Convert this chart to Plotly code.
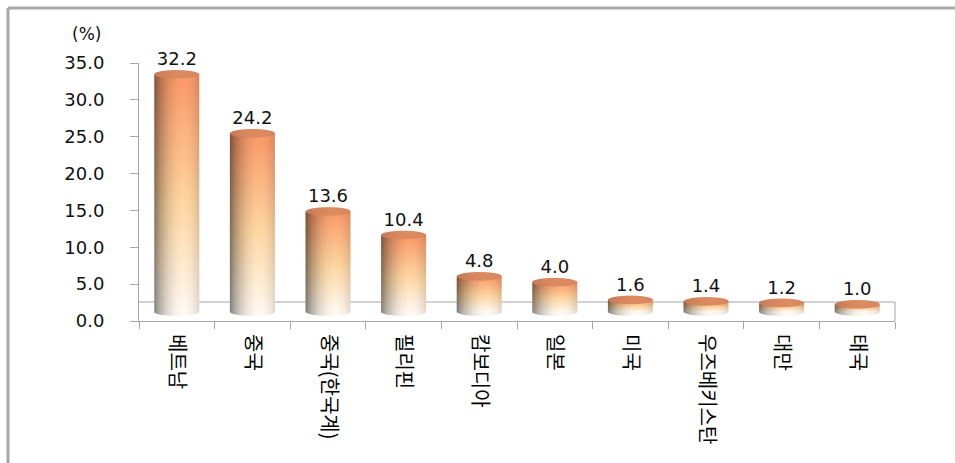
import numpy as np
import plotly.graph_objects as go

# ---- data -------------------------------------------------------------
countries = ["베트남", "중국", "중국(한국계)", "필리핀", "캄보디아",
             "일본", "미국", "우즈베키스탄", "대만", "태국"]
shares = [32.2, 24.2, 13.6, 10.4, 4.8, 4.0, 1.6, 1.4, 1.2, 1.0]
y_ticks = [0, 5, 10, 15, 20, 25, 30, 35]

# ---- page geometry (px) -----------------------------------------------
W, H = 955, 463
ML, MR, MT, MB = 139, 60, 63, 142
PW, PH = W - ML - MR, H - MT - MB
Y_MAX = 35
px_per_y = PH / Y_MAX
px_per_x = PW / len(countries)
FLOOR_PX = 19                      # depth of the 3-D floor
lift = (FLOOR_PX / 2) / px_per_y   # cylinders stand in the middle of the floor
BAR_PX = 45                        # cylinder diameter
CAP_PX = 4.3                       # half-height of the elliptical ends
cap_e = CAP_PX / px_per_y

BODY_STOPS = [(0.0, (255, 248, 240)), (0.45, (255, 214, 162)), (1.0, (250, 152, 102))]
CAP_RGB = np.array([220, 138, 96], float)
GRID = "#A6A6A6"
TEXT = "#111111"


def body_color(t):
    ts = [s[0] for s in BODY_STOPS]
    out = np.zeros(t.shape + (3,))
    for c in range(3):
        out[..., c] = np.interp(t, ts, [s[1][c] for s in BODY_STOPS])
    return out


def cylinder(i, v):
    """RGBA image of one shaded cylinder standing at category index i with height v."""
    half = BAR_PX / 2 / px_per_x
    dx, dy = 1 / px_per_x, 1 / px_per_y
    ybot, ytop = -cap_e, v + cap_e
    m = int(np.ceil((ytop - ybot) * px_per_y)) + 2
    xs = i - half + dx * (np.arange(BAR_PX) + 0.5)
    ys = ybot + dy * (np.arange(m) + 0.5)
    u = (xs - i) / half
    U, Y = np.meshgrid(u, ys)
    root = np.sqrt(np.clip(1 - U ** 2, 0, 1))

    # side lighting: dark left rim, highlight right of centre
    a = np.clip((U - 0.3) / 1.3, -1, 1) * np.pi / 2
    shade = 0.48 + 0.52 * np.cos(a) ** 0.7

    body = body_color(np.clip(Y / v, 0, 1)) * shade[..., None]
    cap_shade = 0.86 + 0.14 * np.cos(a) ** 0.7
    cap = CAP_RGB[None, None, :] * cap_shade[..., None]

    w_cap = np.clip((Y - (v - cap_e * root)) * px_per_y + 0.5, 0, 1)[..., None]
    rgb = body * (1 - w_cap) + cap * w_cap

    a_bot = np.clip((Y + cap_e * root) * px_per_y + 0.5, 0, 1)
    a_top = np.clip((v + cap_e * root - Y) * px_per_y + 0.5, 0, 1)
    alpha = np.minimum(a_bot, a_top)

    z = np.concatenate([np.clip(rgb, 0, 255), alpha[..., None]], axis=2)
    return go.Image(z=z, colormodel="rgba", x0=xs[0], dx=dx, y0=ys[0], dy=dy,
                    xaxis="x2", yaxis="y2", hoverinfo="skip")


fig = go.Figure()

# empty trace so the front (labelled) axes are drawn
fig.add_trace(go.Scatter(x=countries, y=shares, mode="none", xaxis="x", yaxis="y",
                         hoverinfo="skip", showlegend=False))

for i, v in enumerate(shares):
    fig.add_trace(cylinder(i, v))

# value labels sitting on top of each cylinder
fig.add_trace(go.Scatter(
    x=countries, y=[v + cap_e for v in shares], xaxis="x", yaxis="y2",
    mode="text", text=[f"{v:.1f}" for v in shares], textposition="top center",
    textfont=dict(family="DejaVu Sans", size=18, color=TEXT),
    cliponaxis=False, hoverinfo="skip", showlegend=False))


def px_x(p):
    return (p - ML) / PW


def px_y(p):
    return (H - MB - p) / PH


shapes = [
    # floor: back edge and right side
    dict(type="line", xref="paper", yref="paper", x0=0, x1=1,
         y0=FLOOR_PX / PH, y1=FLOOR_PX / PH, line=dict(color=GRID, width=1), layer="below"),
    dict(type="line", xref="paper", yref="paper", x0=1, x1=1,
         y0=0, y1=FLOOR_PX / PH, line=dict(color=GRID, width=1), layer="below"),
    # chart frame (top and left edges)
    dict(type="line", xref="paper", yref="paper", x0=px_x(8), x1=px_x(W + 5),
         y0=px_y(8), y1=px_y(8), line=dict(color="#A8A8A8", width=3)),
    dict(type="line", xref="paper", yref="paper", x0=px_x(8), x1=px_x(8),
         y0=px_y(8), y1=px_y(H + 5), line=dict(color="#A8A8A8", width=3)),
]

fig.update_layout(
    width=W, height=H,
    margin=dict(l=ML, r=MR, t=MT, b=MB),
    paper_bgcolor="white", plot_bgcolor="rgba(0,0,0,0)",
    showlegend=False,
    shapes=shapes,
    xaxis=dict(type="category", categoryorder="array", categoryarray=countries,
               range=[-0.5, len(countries) - 0.5], tickson="boundaries",
               ticks="outside", ticklen=7, tickcolor=GRID, showline=True,
               linecolor=GRID, linewidth=1, showgrid=False, zeroline=False,
               tickangle=90, ticklabelstandoff=8,
               tickfont=dict(family="Noto Sans CJK KR", size=20, color="#000000")),
    xaxis2=dict(overlaying="x", range=[-0.5, len(countries) - 0.5], visible=False,
                scaleanchor=False),
    yaxis=dict(range=[0, Y_MAX], tickvals=y_ticks, tickformat=".1f",
               ticks="outside", ticklen=8, tickcolor=GRID, showline=True,
               linecolor=GRID, linewidth=1, showgrid=False, zeroline=False,
               ticklabelstandoff=22,
               tickfont=dict(family="DejaVu Sans", size=18, color=TEXT)),
    yaxis2=dict(overlaying="y", anchor="x", range=[-lift, Y_MAX - lift],
                visible=False, scaleanchor=False),
    annotations=[dict(text="(%)", xref="paper", yref="paper", x=px_x(86), y=px_y(34),
                      showarrow=False, xanchor="center", yanchor="middle",
                      font=dict(family="DejaVu Sans", size=17, color=TEXT))],
)

fig.write_html("out.html")
